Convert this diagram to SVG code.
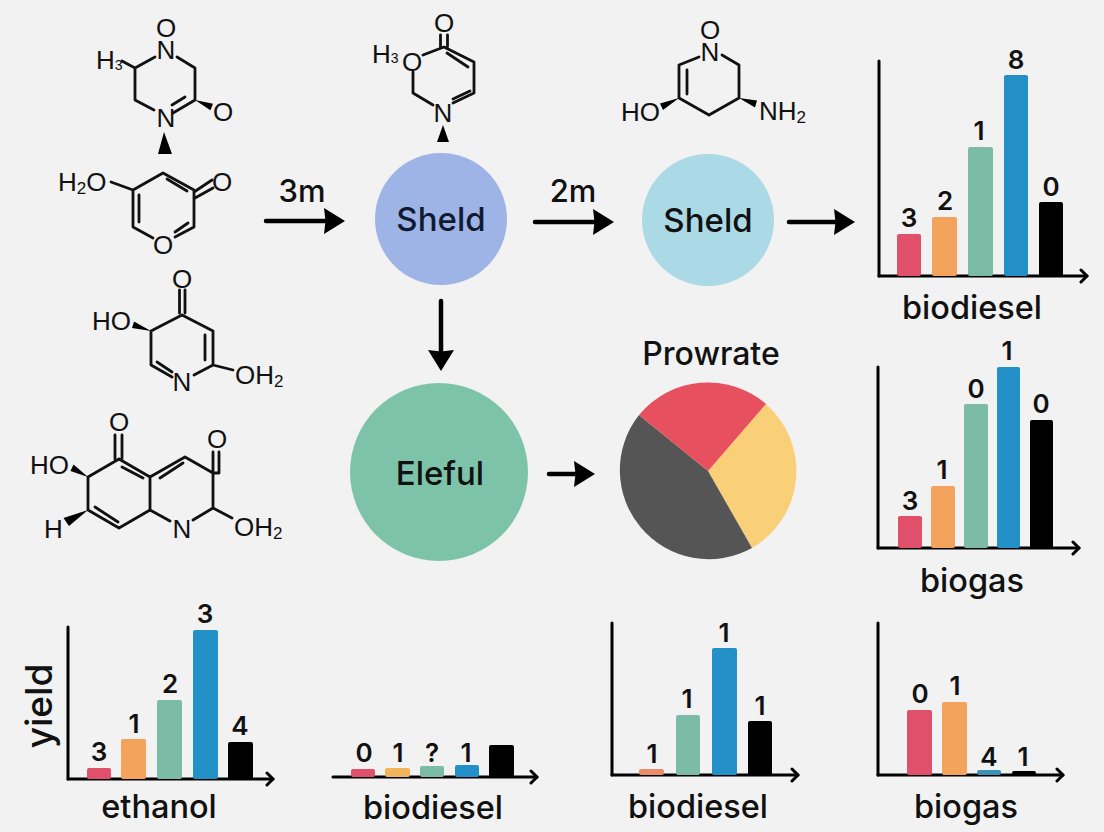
<svg xmlns="http://www.w3.org/2000/svg" width="1104" height="832" viewBox="0 0 1104 832">
<style>
.bg{fill:#f2f2f2}
.b{fill:none;stroke:#111;stroke-width:2.8;stroke-linecap:round;stroke-linejoin:round}
.w{fill:#000}
.a{font-family:"Liberation Sans",Arial,sans-serif;font-size:26px;fill:#111}
.am{text-anchor:middle}
.s{font-size:17px}
.ss{font-size:14px}
.t{font-family:Inter,Lato,sans-serif;font-weight:500;fill:#111;text-anchor:middle}
.d{font-size:26px;font-weight:600}
.h{font-size:32.5px}
.n{font-size:33px}
.ax{fill:none;stroke:#000;stroke-width:3;stroke-linecap:round}
.c{fill:none;stroke:#000;stroke-width:4.5;stroke-linecap:round}
.r{fill:#e0506a}.o{fill:#f4a35c}.g{fill:#7cbca6}.u{fill:#2490c8}.k{fill:#000}
</style>
<defs>
<marker id="head" markerUnits="userSpaceOnUse" markerWidth="24" markerHeight="30" refX="4" refY="13" orient="auto"><path d="M0,0 L21,13 L0,26 L1.500,13 Z" fill="#000"/></marker>
<marker id="tip" markerUnits="userSpaceOnUse" markerWidth="12" markerHeight="18" refX="8" refY="8" orient="auto"><path d="M2,2 L8,8 L2,14" fill="none" stroke="#000" stroke-width="3" stroke-linecap="round" stroke-linejoin="round"/></marker>
</defs>
<rect class="bg" width="1104" height="832"/>

<g id="molecule-1">
<path class="b" d="M155,57 L135,68 L135,100 L154,110 M177,57 L195,68 L195,100 L173,113 M185,97 L172,105 M135,68 L122,61"/>
<polygon class="w" points="195,100 213,103.8 210.4,110.2"/>
<polygon class="w" points="164,132 158,154 172,154"/>
<text class="a am" x="166" y="37">O</text><text class="a am" x="166" y="59">N</text><text class="a am" x="166" y="127">N</text><text class="a am" x="223" y="121">O</text>
<text class="a" x="96" y="69">H<tspan class="ss" dy="1">3</tspan></text>
</g>
<g id="molecule-2">
<path class="b" d="M111,182 L133,190 L133,227 L153,238 M139,195 L139,222 M175,237 L194,227 L194,190 L163,173 L133,190 M175,232 L188,223 M167,179 L187,191 M194,192 L212,180 M195,198 L213,188"/>
<text class="a" x="58" y="191">H<tspan class="s" dy="3">2</tspan><tspan dy="-3">O</tspan></text>
<text class="a am" x="222" y="191">O</text><text class="a am" x="163" y="254">O</text>
</g>
<g id="molecule-3">
<path class="b" d="M179.500,290 L179.500,313 M185,290 L185,313 M182,315 L213,331 L213,365 L194,375 M205,335 L205,360 M233,370 L213,365 M172,377 L151,365 L151,331 L182,315 M157,362 L172,372"/>
<polygon class="w" points="151,331 134,321.500 132,328"/>
<text class="a am" x="182" y="288">O</text><text class="a am" x="182" y="391">N</text>
<text class="a" x="92" y="330">HO</text>
<text class="a" x="235" y="384">OH<tspan class="s" dy="3">2</tspan></text>
</g>
<g id="molecule-4">
<path class="b" d="M115,435 L115,459 M122,435 L122,459 M119,459 L150,477 L150,510 L119,528 L88,510 L88,477 L119,459 M122,467 L143,478 M95,507 L118,522 M150,477 L185,457 L213,473 L213,508 L193,520 M160,478 L183,463 M150,510 L170,521 M213,452 L213,473 M219,452 L219,473 L213,473 M213,508 L232,518"/>
<polygon class="w" points="88,477 73.500,464.500 70.500,471"/>
<polygon class="w" points="88,510 63.500,518 69,526"/>
<text class="a am" x="119" y="431">O</text><text class="a am" x="217" y="448">O</text><text class="a am" x="182" y="538">N</text>
<text class="a" x="30" y="474">HO</text><text class="a" x="44" y="538">H</text>
<text class="a" x="234" y="536">OH<tspan class="s" dy="3">2</tspan></text>
</g>
<g id="molecule-5">
<path class="b" d="M440.500,35 L440.500,47 M447.500,35 L447.500,47 M423,55 L444,47 L474,62 L474,93 L453,103 M447,53 L468,67 M470,91 L453,99 M413,72 L413,93 L433,105"/>
<polygon class="w" points="443,125 437,142 449,142"/>
<text class="a am" x="444" y="32">O</text><text class="a am" x="412" y="71">O</text><text class="a am" x="443" y="122">N</text>
<text class="a" x="372" y="63">H<tspan class="ss" dy="0">3</tspan></text>
</g>
<g id="molecule-6">
<path class="b" d="M699,57 L679,65 L679,98 L709,115 L739,98 L739,65 L722,55 M687,70 L687,94"/>
<polygon class="w" points="679,98 660,103.500 663,110"/>
<polygon class="w" points="739,98 757,100.500 755,107.500"/>
<text class="a am" x="710" y="39">O</text><text class="a am" x="710" y="61">N</text>
<text class="a" x="621" y="121">HO</text>
<text class="a" x="759" y="120">NH<tspan class="s" dy="3">2</tspan></text>
</g>

<g id="node-sheld-1"><circle cx="441" cy="219" r="66" fill="#9fb4e6"/><text class="t n" x="441" y="231" style="fill:#111a30">Sheld</text></g>
<g id="node-sheld-2"><circle cx="708" cy="220" r="66" fill="#abd9e6"/><text class="t n" x="708" y="232">Sheld</text></g>
<g id="node-eleful"><circle cx="439" cy="472" r="89" fill="#7dc3aa"/><text class="t n" x="440" y="485">Eleful</text></g>
<g id="node-prowrate">
<text class="t" style="font-size:32px" x="711" y="365">Prowrate</text>
<path d="M708,471 L766,404 A89,89 0 0 1 752,548 Z" fill="#f9d078"/>
<path d="M708,471 L752,548 A89,89 0 0 1 639,415 Z" fill="#555"/>
<path d="M708,471 L639,415 A89,89 0 0 1 766,404 Z" fill="#e6505f"/>
</g>

<g id="connectors">
<path class="c" marker-end="url(#head)" d="M266,221 L328,221"/>
<path class="c" marker-end="url(#head)" d="M535,222 L597,222"/>
<path class="c" marker-end="url(#head)" d="M789,222 L838,222"/>
<path class="c" marker-end="url(#head)" d="M441,301 L441,354"/>
<path class="c" marker-end="url(#head)" d="M549,474 L578,474"/>
</g>
<text class="t" style="font-size:31px" x="302" y="202">3m</text>
<text class="t" style="font-size:31px" x="573" y="202">2m</text>

<g id="chart-biodiesel-a">
<path class="ax" d="M879,61 L879,276" /><path class="ax" marker-end="url(#tip)" d="M879,276 L1087,276"/>
<rect class="r" x="897" y="234" width="24" height="42" rx="2"/><rect class="o" x="932" y="217" width="25" height="59" rx="2"/><rect class="g" x="968" y="147" width="25" height="129" rx="2"/><rect class="u" x="1004" y="75" width="24" height="201" rx="2"/><rect class="k" x="1039" y="202" width="24" height="74" rx="2"/>
<text class="t d" x="909" y="227">3</text><text class="t d" x="945" y="210">2</text><text class="t d" x="979" y="140">1</text><text class="t d" x="1016" y="69">8</text><text class="t d" x="1051" y="196">0</text>
<text class="t h" x="972" y="319">biodiesel</text>
</g>
<g id="chart-biogas-a">
<path class="ax" d="M878,367 L878,548"/><path class="ax" marker-end="url(#tip)" d="M878,548 L1079,548"/>
<rect class="r" x="898" y="516" width="24" height="32" rx="2"/><rect class="o" x="931" y="486" width="24" height="62" rx="2"/><rect class="g" x="964" y="404" width="24" height="144" rx="2"/><rect class="u" x="997" y="367" width="23" height="181" rx="2"/><rect class="k" x="1030" y="420" width="23" height="128" rx="2"/>
<text class="t d" x="910" y="510">3</text><text class="t d" x="942" y="479">1</text><text class="t d" x="976" y="398">0</text><text class="t d" x="1007" y="360">1</text><text class="t d" x="1041" y="413">0</text>
<text class="t h" x="972" y="592">biogas</text>
</g>
<g id="chart-ethanol">
<path class="ax" d="M68,627 L68,779"/><path class="ax" marker-end="url(#tip)" d="M68,779 L273,779"/>
<rect class="r" x="87" y="768" width="24" height="11" rx="2"/><rect class="o" x="121" y="739" width="25" height="40" rx="2"/><rect class="g" x="157" y="700" width="25" height="79" rx="2"/><rect class="u" x="193" y="630" width="25" height="149" rx="2"/><rect class="k" x="228" y="742" width="25" height="37" rx="2"/>
<text class="t d" x="99" y="761">3</text><text class="t d" x="134" y="733">1</text><text class="t d" x="170" y="693">2</text><text class="t d" x="205" y="623">3</text><text class="t d" x="240" y="735">4</text>
<text class="t h" x="159" y="818">ethanol</text>
<text class="t" style="font-size:37px" transform="translate(52,706) rotate(-90)" x="0" y="0">yield</text>
</g>
<g id="chart-biodiesel-b">
<path class="ax" marker-end="url(#tip)" d="M333,777 L537,777"/>
<rect class="r" x="351" y="769" width="24" height="8" rx="2"/><rect x="385" y="768" width="25" height="9" rx="2" fill="#f2b45a"/><rect class="g" x="420" y="766" width="24" height="11" rx="2"/><rect class="u" x="455" y="765" width="24" height="12" rx="2"/><rect class="k" x="489" y="745" width="25" height="32" rx="2"/>
<text class="t d" x="364" y="762">0</text><text class="t d" x="398" y="762">1</text><text class="t d" x="432" y="762">?</text><text class="t d" x="466" y="762">1</text>
<text class="t h" x="433" y="819">biodiesel</text>
</g>
<g id="chart-biodiesel-c">
<path class="ax" d="M612,623 L612,775"/><path class="ax" marker-end="url(#tip)" d="M612,775 L798,775"/>
<rect x="639" y="769" width="25" height="6" rx="2" fill="#ee8c6a"/><rect class="g" x="676" y="715" width="24" height="60" rx="2"/><rect class="u" x="712" y="648" width="25" height="127" rx="2"/><rect class="k" x="748" y="721" width="24" height="54" rx="2"/>
<text class="t d" x="652" y="763">1</text><text class="t d" x="687" y="708">1</text><text class="t d" x="724" y="642">1</text><text class="t d" x="760" y="715">1</text>
<text class="t h" x="698" y="818">biodiesel</text>
</g>
<g id="chart-biogas-b">
<path class="ax" d="M878,623 L878,775"/><path class="ax" marker-end="url(#tip)" d="M878,775 L1063,775"/>
<rect class="r" x="907" y="710" width="25" height="65" rx="2"/><rect class="o" x="942" y="702" width="25" height="73" rx="2"/><rect x="977" y="770" width="24" height="5" rx="2" fill="#3a93b5"/><rect class="k" x="1012" y="771" width="24" height="4" rx="2"/>
<text class="t d" x="920" y="703">0</text><text class="t d" x="955" y="695">1</text><text class="t d" x="989" y="766">4</text><text class="t d" x="1023" y="766">1</text>
<text class="t h" x="966" y="818">biogas</text>
</g>
</svg>
